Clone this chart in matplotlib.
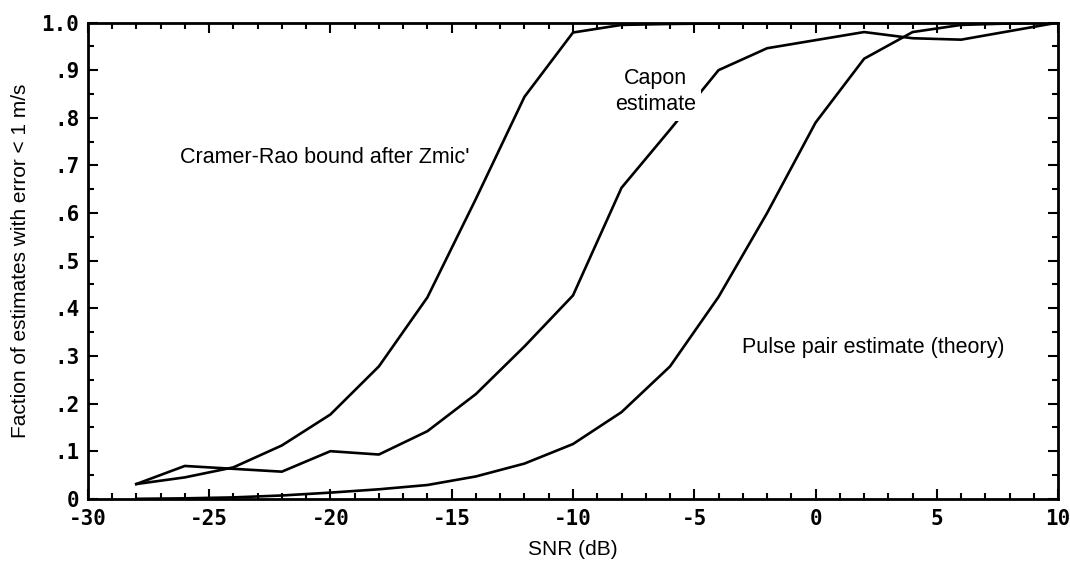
#!/usr/bin/python3

# fraction of velocity estimates within 1 m/s vs SNR

import matplotlib
matplotlib.use("Agg")
import matplotlib.pyplot as plt
from matplotlib.ticker import MultipleLocator, FixedLocator

snr = [-28, -26, -24, -22, -20, -18, -16, -14, -12, -10,
       -8, -6, -4, -2, 0, 2, 4, 6, 8, 10]

cramer_rao = [0.031, 0.045, 0.066, 0.112, 0.177, 0.278, 0.423, 0.63, 0.844, 0.979,
              0.995, 0.997, 0.998, 0.998, 0.999, 0.999, 0.999, 1.0, 1.0, 1.0]
capon = [0.031, 0.069, 0.063, 0.057, 0.10, 0.093, 0.142, 0.22, 0.32, 0.427,
         0.653, 0.775, 0.90, 0.946, 0.963, 0.98, 0.967, 0.964, 0.982, 1.0]
pulse_pair = [0.0, 0.001, 0.003, 0.007, 0.013, 0.02, 0.029, 0.047, 0.074, 0.115,
              0.182, 0.278, 0.424, 0.60, 0.79, 0.924, 0.98, 0.995, 0.998, 1.0]

yticks = [0, .1, .2, .3, .4, .5, .6, .7, .8, .9, 1.0]
ylabels = ["0", ".1", ".2", ".3", ".4", ".5", ".6", ".7", ".8", ".9", "1.0"]
xticks = [-30, -25, -20, -15, -10, -5, 0, 5, 10]

txt = "Liberation Sans"
mono = "DejaVu Sans Mono"

fig = plt.figure(figsize=(10.7, 5.63), dpi=100)
ax = fig.add_axes([0.082, 0.114, 0.907, 0.846])

ax.plot(snr, cramer_rao, color="black", lw=1.9, zorder=2)
ax.plot(snr, capon, color="black", lw=1.9, zorder=2)
ax.plot(snr, pulse_pair, color="black", lw=1.9, zorder=2)

ax.set_xlim(-30, 10)
ax.set_ylim(0, 1.0)

ax.xaxis.set_major_locator(FixedLocator(xticks))
ax.xaxis.set_minor_locator(MultipleLocator(1))
ax.yaxis.set_major_locator(FixedLocator(yticks))
ax.yaxis.set_minor_locator(MultipleLocator(0.05))
ax.set_yticklabels(ylabels)
ax.set_xticklabels([str(v) for v in xticks])

ax.tick_params(which="both", direction="in", top=True, right=True, width=1.5)
ax.tick_params(which="major", length=7)
ax.tick_params(which="minor", length=4)
ax.tick_params(axis="x", which="major", pad=7)
ax.tick_params(axis="y", which="major", pad=6)
for lab in ax.get_xticklabels() + ax.get_yticklabels():
    lab.set_family(mono)
    lab.set_fontsize(15)
    lab.set_weight("bold")

for s in ax.spines.values():
    s.set_linewidth(2.0)

ax.set_xlabel("SNR (dB)", family=txt, fontsize=15, labelpad=8)
ax.set_ylabel("Faction of estimates with error < 1 m/s", family=txt, fontsize=15, labelpad=8)

ax.text(-26.2, 0.716, "Cramer-Rao bound after Zmic'", family=txt, fontsize=15.5, va="center")
# white box cuts the capon line where the label sits
ax.text(-6.6, 0.855, "Capon\nestimate", family=txt, fontsize=15.5, ha="center", va="center",
        linespacing=1.35, zorder=3,
        bbox=dict(boxstyle="square,pad=0.25", fc="white", ec="none"))
ax.text(-3.05, 0.318, "Pulse pair estimate (theory)", family=txt, fontsize=15.5, va="center")

plt.savefig("out.png", dpi=100)
